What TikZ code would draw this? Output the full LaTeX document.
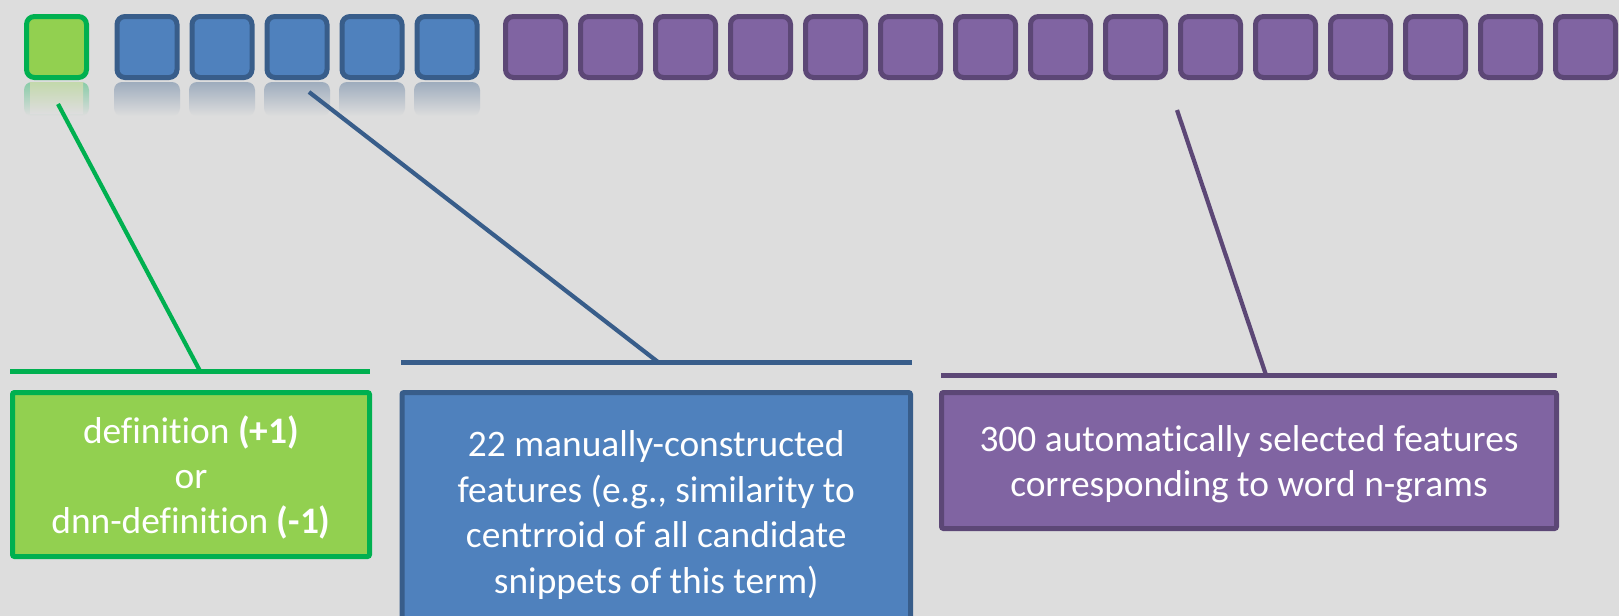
\documentclass[tikz,border=0pt]{standalone}
\usepackage{fontspec}
\setmainfont[Ligatures=NoCommon]{Carlito}
\definecolor{bg}{HTML}{DDDDDD}
\definecolor{gfill}{HTML}{92D050}
\definecolor{gline}{HTML}{00B050}
\definecolor{bfill}{HTML}{4F81BD}
\definecolor{bline}{HTML}{385D8A}
\definecolor{pfill}{HTML}{8064A2}
\definecolor{pline}{HTML}{5C4776}
\begin{document}
\begin{tikzpicture}[x=0.5pt,y=-0.5pt,
  sq/.style={minimum width=30pt, minimum height=30.5pt, inner sep=0pt, rounded corners=4pt, line width=2.5pt},
  gsq/.style={sq, fill=gfill, draw=gline},
  bsq/.style={sq, fill=bfill, draw=bline},
  psq/.style={sq, fill=pfill, draw=pline},
  box/.style={line width=2.5pt, rounded corners=1pt, inner sep=0pt},
  boxtext/.style={inner sep=0pt, align=center, text=white,
    font=\fontsize{18.7pt}{22.7pt}\selectfont},
  conn/.style={line width=2.1pt},
  bar/.style={line width=2.8pt}]
\useasboundingbox (0,0) rectangle (1619,616);
\fill[bg] (0,0) rectangle (1619,616);
\clip (0,0) rectangle (1619,616);
% reflections
\shade[top color=gline!38!bg, bottom color=bg, rounded corners=4pt] (24,82) rectangle (89,116);
\shade[top color=gfill!35!bg, bottom color=bg] (30,82) rectangle (83,113);
\foreach \i in {1,...,5}{
  \shade[top color=bline!38!bg, bottom color=bg, rounded corners=4pt] ({147+75*(\i-1)-33},82) rectangle ({147+75*(\i-1)+33},116);
}
% squares
\node[gsq] (g) at (56.5,47) {};
\foreach \i in {1,...,5}{
  \node[bsq] (b\i) at ({147+75*(\i-1)},47) {};
}
\foreach \i in {1,...,15}{
  \node[psq] (p\i) at ({535.5+75*(\i-1)},47) {};
}
% boxes
\node[box, fill=gfill, draw=gline, minimum width=178.5pt, minimum height=82pt] (gbox) at (191,474.5) {};
\node[boxtext, yshift=-1.5pt] (gtext) at (gbox.center)
  {definition \textbf{(+1)}\\or\\dnn-definition \textbf{(-1)}};
\node[box, fill=bfill, draw=bline, minimum width=254.25pt, minimum height=113.5pt] (bbox) at (656.25,506) {};
\node[boxtext, yshift=-4.5pt] (btext) at (bbox.center)
  {22 manually-constructed\\features (e.g., similarity to\\centrroid of all candidate\\snippets of this term)};
\node[box, fill=pfill, draw=pline, minimum width=307.5pt, minimum height=68pt] (pbox) at (1249,460.5) {};
\node[boxtext, yshift=-2pt] (ptext) at (pbox.center)
  {300 automatically selected features\\corresponding to word n-grams};
% bars
\coordinate (gbl) at (10,371.5);  \coordinate (gbr) at (370,371.5);
\coordinate (bbl) at (401,362.5); \coordinate (bbr) at (912,362.5);
\coordinate (pbl) at (941,375.5); \coordinate (pbr) at (1557,375.5);
\draw[bar, gline] (gbl) -- (gbr);
\draw[bar, bline] (bbl) -- (bbr);
\draw[bar, pline] (pbl) -- (pbr);
% connectors
\coordinate (gtop) at (58,104);   \coordinate (gbot) at (200,371);
\coordinate (btop) at (309,92);   \coordinate (bbot) at (658,362);
\coordinate (ptop) at (1177,110); \coordinate (pbot) at (1266,375);
\draw[conn, gline] (gtop) -- (gbot);
\draw[conn, bline] (btop) -- (bbot);
\draw[conn, pline] (ptop) -- (pbot);
\end{tikzpicture}
\end{document}
